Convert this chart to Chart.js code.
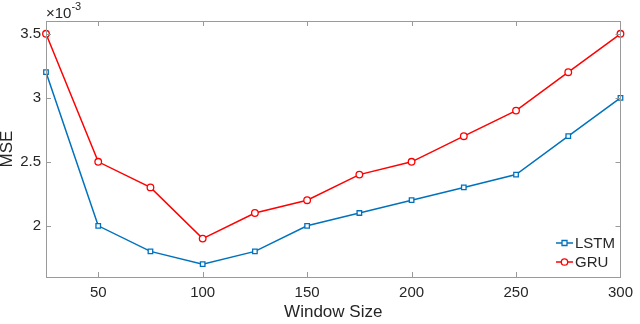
<!DOCTYPE html>
<html>
<head>
<meta charset="utf-8">
<script src="https://cdn.jsdelivr.net/npm/chart.js@4.4.1/dist/chart.umd.min.js"></script>
<style>
html,body{margin:0;padding:0;background:#fff;}
#c{display:block;}
</style>
</head>
<body>
<canvas id="c" width="640" height="324"></canvas>
<script>
const windowSizes = [25, 50, 75, 100, 125, 150, 175, 200, 225, 250, 275, 300];
const lstmMSE = [3.2, 2.0, 1.8, 1.7, 1.8, 2.0, 2.1, 2.2, 2.3, 2.4, 2.7, 3.0];
const gruMSE  = [3.5, 2.5, 2.3, 1.9, 2.1, 2.2, 2.4, 2.5, 2.7, 2.9, 3.2, 3.5];
const xTicks = [50, 100, 150, 200, 250, 300];
const yTicks = [2.0, 2.5, 3.0, 3.5];
const yScaleExp = 1e-3;

const BLUE = '#0072BD', RED = '#FF0000', TXT = '#262626', AX = '#9a9a9a';
const FONT = "'Liberation Sans', Arial, Helvetica, sans-serif";

const toPts = arr => windowSizes.map((x, i) => ({x: x, y: arr[i] * yScaleExp}));

const boxPlugin = {
  id: 'box',
  afterDraw(chart) {
    const {ctx, chartArea: a, scales: {x, y}} = chart;
    ctx.save();
    ctx.strokeStyle = AX; ctx.lineWidth = 1;
    ctx.strokeRect(Math.round(a.left) + 0.5, Math.round(a.top) + 0.5,
                   Math.round(a.right - a.left), Math.round(a.bottom - a.top));
    const tl = 5;
    ctx.beginPath();
    xTicks.forEach(v => {
      const px = Math.round(x.getPixelForValue(v)) + 0.5;
      ctx.moveTo(px, a.bottom); ctx.lineTo(px, a.bottom - tl);
      ctx.moveTo(px, a.top); ctx.lineTo(px, a.top + tl);
    });
    yTicks.forEach(v => {
      const py = Math.round(y.getPixelForValue(v * yScaleExp)) + 0.5;
      ctx.moveTo(a.left, py); ctx.lineTo(a.left + tl, py);
      ctx.moveTo(a.right, py); ctx.lineTo(a.right - tl, py);
    });
    ctx.stroke();
    // exponent
    ctx.fillStyle = TXT;
    ctx.textBaseline = 'alphabetic';
    ctx.font = '15px ' + FONT;
    ctx.fillText('\u00d710', a.left, a.top - 3);
    const w = ctx.measureText('\u00d710').width;
    ctx.font = '11px ' + FONT;
    ctx.fillText('-3', a.left + w, a.top - 11);
    // legend
    const items = [{label: 'LSTM', color: BLUE, style: 'rect'}, {label: 'GRU', color: RED, style: 'circle'}];
    const lx0 = 556, lx1 = 573, ly0 = 243, dy = 19;
    items.forEach((it, i) => {
      const ly = ly0 + i * dy;
      ctx.strokeStyle = it.color; ctx.lineWidth = 1.5;
      ctx.beginPath(); ctx.moveTo(lx0, ly); ctx.lineTo(lx1, ly); ctx.stroke();
      const cx = (lx0 + lx1) / 2;
      ctx.beginPath();
      ctx.fillStyle = '#fff'; ctx.lineWidth = 1.3;
      if (it.style === 'rect') { ctx.rect(cx - 2.5, ly - 2.5, 5, 5); }
      else { ctx.arc(cx, ly, 3.2, 0, Math.PI * 2); }
      ctx.fill(); ctx.stroke();
      ctx.fillStyle = TXT; ctx.font = '15px ' + FONT; ctx.textBaseline = 'middle';
      ctx.fillText(it.label, lx1 + 2, ly + 1);
    });
    ctx.restore();
  }
};

new Chart(document.getElementById('c'), {
  type: 'line',
  data: {
    datasets: [
      {label: 'LSTM', data: toPts(lstmMSE), borderColor: BLUE, backgroundColor: BLUE,
       borderWidth: 1.5, pointStyle: 'rect', pointRadius: 3.2, pointBorderWidth: 1.3,
       pointBackgroundColor: '#ffffff', pointBorderColor: BLUE, clip: false, tension: 0},
      {label: 'GRU', data: toPts(gruMSE), borderColor: RED, backgroundColor: RED,
       borderWidth: 1.5, pointStyle: 'circle', pointRadius: 3.3, pointBorderWidth: 1.3,
       pointBackgroundColor: '#ffffff', pointBorderColor: RED, clip: false, tension: 0}
    ]
  },
  options: {
    responsive: false, animation: false,
    layout: {padding: {left: 0, right: 14, top: 21, bottom: 0}},
    plugins: {legend: {display: false}, tooltip: {enabled: false}},
    scales: {
      x: {
        type: 'linear', min: 25, max: 300,
        afterBuildTicks: s => { s.ticks = xTicks.map(v => ({value: v})); },
        afterFit: s => { s.height = 47; },
        grid: {display: false, drawTicks: false}, border: {display: false},
        ticks: {color: TXT, font: {family: FONT, size: 15}, padding: 7, maxRotation: 0, autoSkip: false},
        title: {display: true, text: 'Window Size', color: TXT, font: {family: FONT, size: 17}, padding: {top: 0, bottom: 1}}
      },
      y: {
        type: 'linear', min: 1.6e-3, max: 3.6e-3,
        afterBuildTicks: s => { s.ticks = yTicks.map(v => ({value: v * yScaleExp})); },
        afterFit: s => { s.width = 46; },
        grid: {display: false, drawTicks: false}, border: {display: false},
        ticks: {color: TXT, font: {family: FONT, size: 15}, padding: 5,
                callback: v => { const n = Math.round(v / yScaleExp * 10) / 10; return String(n); }},
        title: {display: true, text: 'MSE', color: TXT, font: {family: FONT, size: 17}, padding: {top: -3, bottom: 0}}
      }
    }
  },
  plugins: [boxPlugin]
});
</script>
</body>
</html>
